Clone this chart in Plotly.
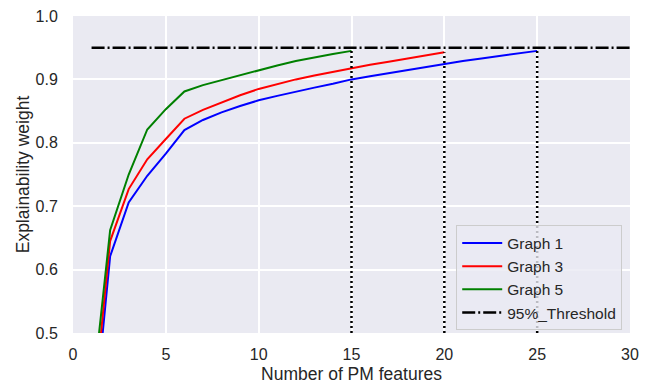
import plotly.graph_objects as go

# ---- data ----
x_g1 = list(range(1, 26))
y_g1 = [0.320, 0.621, 0.706, 0.748, 0.783, 0.820, 0.836, 0.848, 0.858, 0.867,
        0.874, 0.881, 0.887, 0.893, 0.900, 0.905, 0.910, 0.915, 0.920, 0.925,
        0.929, 0.933, 0.937, 0.941, 0.945]

x_g3 = list(range(1, 21))
y_g3 = [0.350, 0.645, 0.727, 0.774, 0.806, 0.838, 0.852, 0.864, 0.875, 0.885,
        0.893, 0.900, 0.906, 0.912, 0.918, 0.923, 0.928, 0.933, 0.938, 0.943]

x_g5 = list(range(1, 16))
y_g5 = [0.390, 0.662, 0.750, 0.821, 0.853, 0.881, 0.891, 0.899, 0.907, 0.915,
        0.922, 0.929, 0.935, 0.940, 0.945]

series_names = ["Graph 1", "Graph 3", "Graph 5"]
series_colors = ["#0000FF", "#FF0000", "#008000"]

threshold_x = [1, 30]
threshold_y = 0.95
threshold_name = "95%_Threshold"

x_ticks = [0, 5, 10, 15, 20, 25, 30]
y_ticks = [0.5, 0.6, 0.7, 0.8, 0.9, 1.0]
x_range = [0, 30]
y_range = [0.5, 1.0]

FONT = "Arial, Liberation Sans, sans-serif"
TXT = "#262626"

fig = go.Figure()

series = [(x_g1, y_g1), (x_g3, y_g3), (x_g5, y_g5)]
for (xs, ys), name, col in zip(series, series_names, series_colors):
    fig.add_trace(go.Scatter(x=xs, y=ys, mode="lines", name=name,
                             line=dict(color=col, width=2)))

# vertical dotted markers at the end of each series
for xs, ys in series:
    fig.add_trace(go.Scatter(x=[xs[-1], xs[-1]], y=[y_range[0], ys[-1]],
                             mode="lines", showlegend=False, hoverinfo="skip",
                             line=dict(color="black", width=2.5, dash="2px,3px")))

fig.add_trace(go.Scatter(x=threshold_x, y=[threshold_y] * len(threshold_x),
                         mode="lines", name=threshold_name,
                         line=dict(color="black", width=2.5, dash="13px,3px,2px,3px")))

fig.update_layout(
    width=653, height=383,
    margin=dict(l=65, r=31, t=8, b=58),
    paper_bgcolor="white",
    plot_bgcolor="#EAEAF2",
    font=dict(family=FONT, color=TXT, size=16),
    legend=dict(
        x=0.688, y=0.008, xanchor="left", yanchor="bottom",
        bgcolor="rgba(234,234,242,0.8)", bordercolor="#CCCCCC", borderwidth=1,
        font=dict(family=FONT, size=15.5, color=TXT),
        itemwidth=40,
    ),
)

fig.update_xaxes(
    range=x_range, tickvals=x_ticks, ticktext=[str(v) for v in x_ticks],
    showgrid=True, gridcolor="white", gridwidth=1.5, zeroline=False,
    showline=False, ticks="outside", ticklen=7, tickcolor="rgba(0,0,0,0)",
    tickfont=dict(size=16, family=FONT, color=TXT), automargin=False,
    ticklabeloverflow="allow",
    title=dict(text="Number of PM features", font=dict(size=17.5, family=FONT, color=TXT), standoff=5),
)
fig.update_yaxes(
    range=y_range, tickvals=y_ticks, ticktext=[f"{v:.1f}" for v in y_ticks],
    showgrid=True, gridcolor="white", gridwidth=1.5, zeroline=False,
    showline=False, ticks="outside", ticklen=11, tickcolor="rgba(0,0,0,0)",
    tickfont=dict(size=16, family=FONT, color=TXT), automargin=False,
    ticklabeloverflow="allow",
    title=dict(text="Explainability weight", font=dict(size=17.5, family=FONT, color=TXT), standoff=1),
)

fig.write_html("out.html")
